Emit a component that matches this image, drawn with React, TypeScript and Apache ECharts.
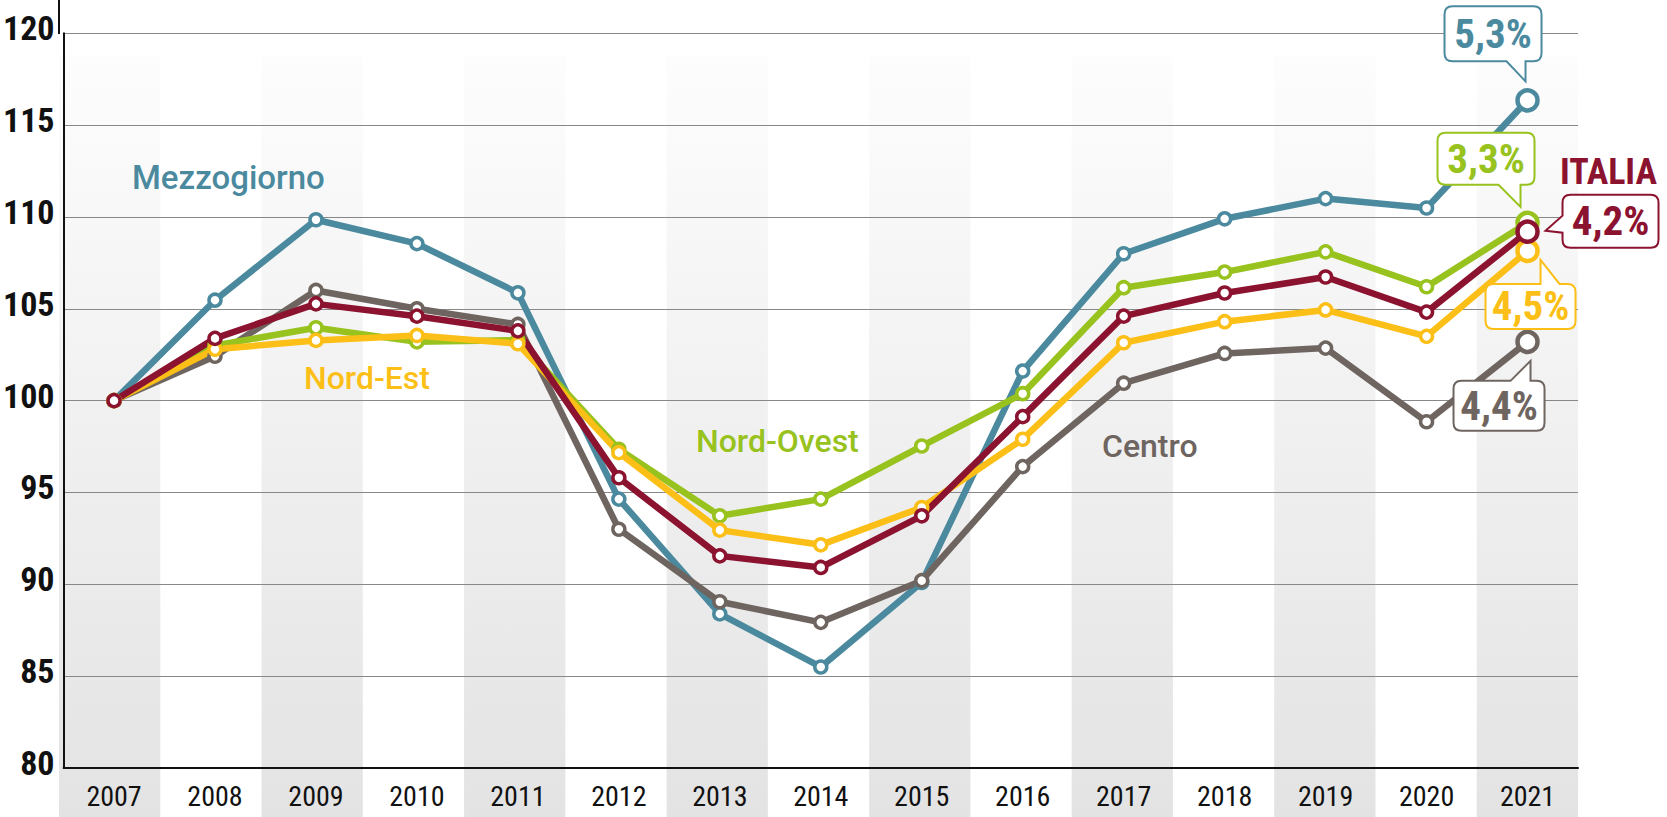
import React, { useEffect, useRef } from 'react';
import * as echarts from 'echarts';

// ---- Data ----
const years = ['2007', '2008', '2009', '2010', '2011', '2012', '2013', '2014', '2015', '2016', '2017', '2018', '2019', '2020', '2021'];
const mezzogiorno = [100, 105.47, 109.85, 108.55, 105.87, 94.64, 88.39, 85.5, 90.1, 101.61, 108.0, 109.9, 111.0, 110.49, 116.35];
const centro = [100, 102.42, 106.0, 105.0, 104.15, 93.0, 89.05, 87.93, 90.2, 96.41, 100.95, 102.57, 102.86, 98.85, 103.2];
const nordOvest = [100, 103.0, 103.97, 103.2, 103.3, 97.35, 93.73, 94.64, 97.53, 100.38, 106.15, 107.0, 108.1, 106.2, 109.68];
const nordEst = [100, 102.8, 103.28, 103.55, 103.1, 97.17, 92.95, 92.15, 94.18, 97.9, 103.15, 104.3, 104.94, 103.5, 108.15];
const italia = [100, 103.39, 105.27, 104.6, 103.8, 95.8, 91.55, 90.92, 93.73, 99.13, 104.6, 105.86, 106.73, 104.82, 109.2];
const seriesNames = ['Mezzogiorno', 'Centro', 'Nord-Ovest', 'Nord-Est', 'Italia'];
const growthLabels = ['5,3%', '4,4%', '3,3%', '4,5%', '4,2%'];

// ---- Styles ----
const BLUE = '#4b8a9e';
const GRAY = '#6f6560';
const GREEN = '#98c21d';
const YELLOW = '#fcbf17';
const RED = '#8c1330';
const COLORS = [BLUE, GRAY, GREEN, YELLOW, RED];
const COND = "'Roboto Condensed', 'Liberation Sans Narrow', 'Arial Narrow', 'DejaVu Sans Condensed', Roboto, sans-serif";
const ALL_DATA = [mezzogiorno, centro, nordOvest, nordEst, italia];

// bubble geometry relative to the last data point: [x1, y1, x2, y2], tail side and tail points
const BUBBLES: any[] = [
  { box: [-83, -94, 14, -39], side: 'bottom', tail: [[-2, -39], [-2, -19], [-21, -39]] },
  { box: [-74, 39, 17, 89], side: 'top', tail: [[-17, 39], [3, 19], [3, 39]] },
  { box: [-90, -90, 7, -38], side: 'bottom', tail: [[-7, -38], [-7, -16], [-29, -38]] },
  { box: [-42, 33, 48, 78], side: 'top', tail: [[13, 33], [13, 9], [32, 33]] },
  { box: [35, -37, 131, 16], side: 'left', tail: [[35, 1], [18, -1], [35, -16]] },
];

function bubblePath(px: number, py: number, b: any): string {
  const r = 8;
  const x1 = px + b.box[0], y1 = py + b.box[1], x2 = px + b.box[2], y2 = py + b.box[3];
  const pts = (side: string) =>
    b.side === side ? b.tail.map((p: number[]) => `L${px + p[0]},${py + p[1]}`).join(' ') : '';
  return [
    `M${x1 + r},${y1}`,
    pts('top'),
    `L${x2 - r},${y1}`,
    `Q${x2},${y1} ${x2},${y1 + r}`,
    pts('right'),
    `L${x2},${y2 - r}`,
    `Q${x2},${y2} ${x2 - r},${y2}`,
    pts('bottom'),
    `L${x1 + r},${y2}`,
    `Q${x1},${y2} ${x1},${y2 - r}`,
    pts('left'),
    `L${x1},${y1 + r}`,
    `Q${x1},${y1} ${x1 + r},${y1}`,
    'Z',
  ].join(' ');
}

export default function App() {
  const ref = useRef<HTMLDivElement>(null);

  useEffect(() => {
    document.body.style.margin = '0';
    const chart = echarts.init(ref.current!, null, { renderer: 'svg' });
    const stripeGrad = new echarts.graphic.LinearGradient(0, 0, 0, 1, [
      { offset: 0, color: '#fdfdfd' },
      { offset: 1, color: '#e3e3e3' },
    ]);
    const option: any = {
      animation: false,
      grid: [
        { left: 59, right: 89, top: 33.3, bottom: 49 },
        { left: 59, right: 89, top: 55, bottom: 0 },
      ],
      xAxis: [
        {
          type: 'category', data: years, gridIndex: 0, boundaryGap: true, z: 3,
          axisLine: { show: true, lineStyle: { color: '#111', width: 2 } },
          axisTick: { show: false },
          axisLabel: { fontSize: 28, color: '#111', fontFamily: COND, margin: 14 },
          splitLine: { show: false },
        },
        {
          type: 'category', data: years, gridIndex: 1, boundaryGap: true, z: 0,
          axisLine: { show: false }, axisTick: { show: false }, axisLabel: { show: false },
          splitLine: { show: false },
          splitArea: { show: true, areaStyle: { color: [stripeGrad, 'rgba(255,255,255,0)'] } },
        },
      ],
      yAxis: [
        {
          type: 'value', gridIndex: 0, min: 80, max: 120, interval: 5, z: 2,
          axisLine: { show: true, lineStyle: { color: '#111', width: 2 } },
          axisTick: { show: false },
          axisLabel: { fontSize: 34, fontWeight: 'bold', color: '#111', fontFamily: COND, margin: 9, verticalAlign: 'bottom', lineHeight: 10 },
          splitLine: { show: true, lineStyle: { color: '#888', width: 1.2 } },
        },
        { type: 'value', gridIndex: 1, show: false },
      ],
      series: ALL_DATA.map((d, si) => ({
        type: 'line',
        name: seriesNames[si],
        xAxisIndex: 0,
        yAxisIndex: 0,
        data: d.map((v, i) => (i === d.length - 1 ? { value: v, symbolSize: 20, itemStyle: { borderWidth: 4.5 } } : v)),
        symbol: 'circle',
        symbolSize: 12,
        showAllSymbol: true,
        lineStyle: { color: COLORS[si], width: 6.5 },
        itemStyle: { color: '#fff', borderColor: COLORS[si], borderWidth: 3.5 },
        emphasis: { disabled: true },
        silent: true,
        z: 2,
      })),
    };
    chart.setOption(option);

    const graphics: any[] = [
      { type: 'line', shape: { x1: 59, y1: 0, x2: 59, y2: 34 }, style: { stroke: '#111', lineWidth: 2 }, z: 5 },
      { type: 'text', x: 132, y: 177, z: 20, style: { text: 'Mezzogiorno', fill: BLUE, fontSize: 33, fontWeight: 500, fontFamily: 'Roboto', align: 'left', verticalAlign: 'middle' } },
      { type: 'text', x: 304, y: 378, z: 20, style: { text: 'Nord-Est', fill: YELLOW, fontSize: 32, fontWeight: 500, fontFamily: 'Roboto', align: 'left', verticalAlign: 'middle' } },
      { type: 'text', x: 696, y: 441, z: 20, style: { text: 'Nord-Ovest', fill: GREEN, fontSize: 32, fontWeight: 500, fontFamily: 'Roboto', align: 'left', verticalAlign: 'middle' } },
      { type: 'text', x: 1102, y: 446, z: 20, style: { text: 'Centro', fill: GRAY, fontSize: 32, fontWeight: 500, fontFamily: 'Roboto', align: 'left', verticalAlign: 'middle' } },
      { type: 'text', x: 1560, y: 172, z: 20, style: { text: 'ITALIA', fill: RED, fontSize: 36, fontWeight: 'bold', fontFamily: COND, align: 'left', verticalAlign: 'middle' } },
    ];

    ALL_DATA.forEach((d, si) => {
      const last = d.length - 1;
      const p = chart.convertToPixel({ seriesIndex: si }, [last, d[last]]) as number[];
      const b = BUBBLES[si];
      const name = 'bubble' + si;
      echarts.graphic.registerShape(name, echarts.graphic.extendPath(bubblePath(p[0], p[1], b), {}) as any);
      graphics.push({ type: name, x: 0, y: 0, z: 30, style: { fill: '#fff', stroke: COLORS[si], lineWidth: 2 } });
      graphics.push({
        type: 'text', z: 31,
        x: p[0] + (b.box[0] + b.box[2]) / 2,
        y: p[1] + (b.box[1] + b.box[3]) / 2,
        style: { text: growthLabels[si], fill: COLORS[si], fontSize: 41, fontWeight: 'bold', fontFamily: COND, align: 'center', verticalAlign: 'middle' },
      });
    });

    chart.setOption({ graphic: graphics });
    return () => chart.dispose();
  }, []);

  return <div ref={ref} style={{ width: 1667, height: 817 }} />;
}
